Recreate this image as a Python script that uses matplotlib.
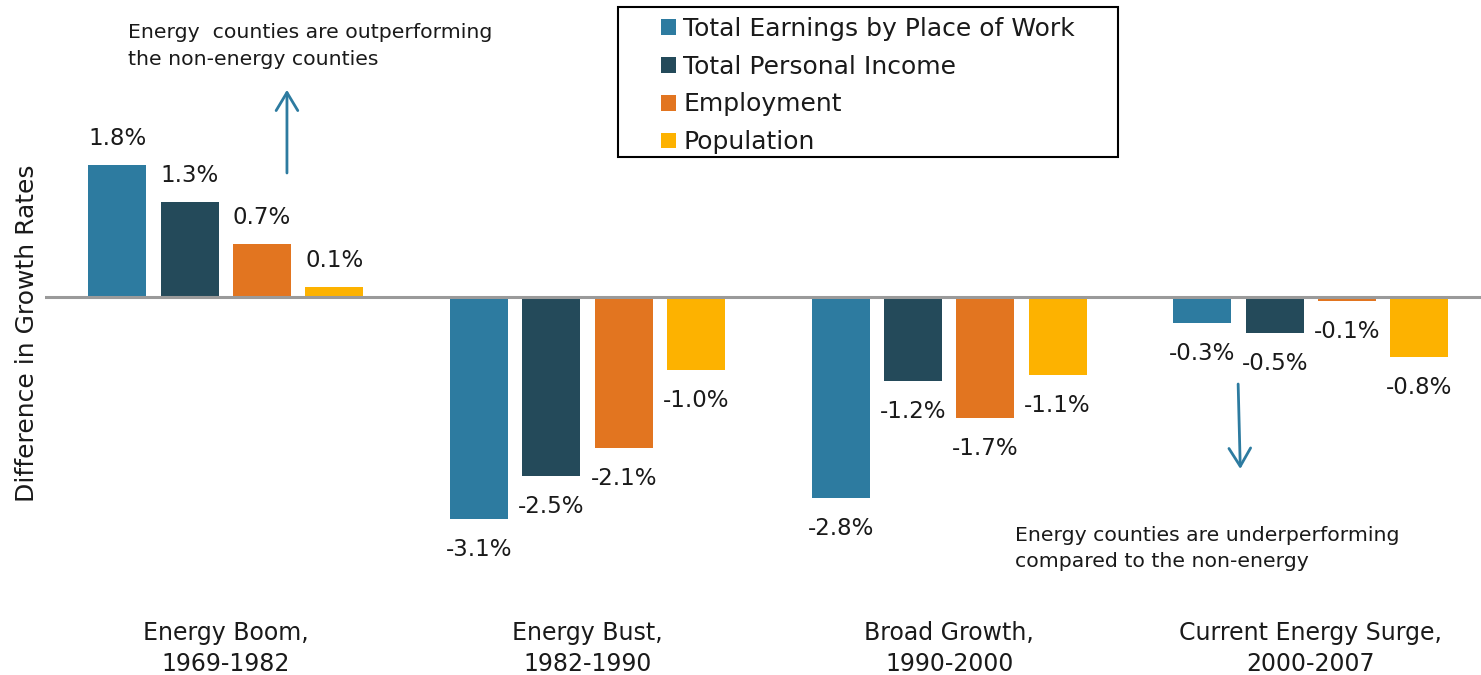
import matplotlib
matplotlib.use("Agg")
import matplotlib.pyplot as plt
import numpy as np
from matplotlib.patches import Patch, Rectangle

plt.rcParams['font.family'] = ['DejaVu Sans']

categories = ["Energy Boom,\n1969-1982", "Energy Bust,\n1982-1990",
              "Broad Growth,\n1990-2000", "Current Energy Surge,\n2000-2007"]
series_names = ["Total Earnings by Place of Work", "Total Personal Income",
                "Employment", "Population"]
earnings = [1.79, -3.00, -2.71, -0.35]
income = [1.28, -2.42, -1.14, -0.48]
employment = [0.72, -2.04, -1.64, -0.06]
population = [0.14, -0.98, -1.05, -0.81]
earnings_labels = ["1.8%", "-3.1%", "-2.8%", "-0.3%"]
income_labels = ["1.3%", "-2.5%", "-1.2%", "-0.5%"]
employment_labels = ["0.7%", "-2.1%", "-1.7%", "-0.1%"]
population_labels = ["0.1%", "-1.0%", "-1.1%", "-0.8%"]

series = [earnings, income, employment, population]
labels = [earnings_labels, income_labels, employment_labels, population_labels]
colors = ["#2D7BA0", "#244A5A", "#E27520", "#FDB200"]

W, H = 1481, 675
fig = plt.figure(figsize=(W / 100, H / 100), dpi=100)
ax = fig.add_axes([45 / W, 75 / H, (W - 45) / W, 600 / H])
ax.set_xlim(-0.5, 3.4705)
ax.set_ylim(-4.095, 4.014)

x = np.arange(len(categories))
step = 0.2
width = 0.16
text_col = "#1a1a1a"
for j, (vals, labs, col) in enumerate(zip(series, labels, colors)):
    xs = x + (j - 1.5) * step
    ax.bar(xs, vals, width, color=col, label=series_names[j], zorder=2)
    for xi, v, lab in zip(xs, vals, labs):
        off = 19 if v >= 0 else -22
        ax.annotate(lab, (xi, v), xytext=(0, off), textcoords="offset points",
                    ha="center", va="center", fontsize=16.5, color=text_col)

ax.axhline(0, color="#9a9a9a", lw=2.2, zorder=3)
for s in ax.spines.values():
    s.set_visible(False)
ax.set_yticks([])
ax.set_xticks(x)
ax.set_xticklabels(categories, fontsize=17, color=text_col, linespacing=1.38)
ax.tick_params(axis="x", length=0, pad=15)

fig.text(27 / W, 1 - 333 / H, "Difference in Growth Rates", rotation=90,
         ha="center", va="center", fontsize=18, color=text_col)

arrow_col = "#2D7BA0"
aprops = dict(arrowstyle="->,head_length=0.5,head_width=0.3", color=arrow_col,
              lw=2, mutation_scale=26, shrinkA=0, shrinkB=0)
ax.annotate("", xy=(0.169, 2.80), xytext=(0.169, 1.676), arrowprops=aprops)
ax.annotate("", xy=(2.805, -2.324), xytext=(2.799, -1.176), arrowprops=aprops)

fig.text(128 / W, 1 - 46 / H, "Energy  counties are outperforming\nthe non-energy counties",
         ha="left", va="center", fontsize=14.7, color=text_col, linespacing=1.5)
fig.text(1015 / W, 1 - 548.5 / H, "Energy counties are underperforming\ncompared to the non-energy",
         ha="left", va="center", fontsize=14.7, color=text_col, linespacing=1.45)

# legend frame
fig.patches.append(Rectangle((618 / W, 1 - 157 / H), 500 / W, 150 / H,
                             transform=fig.transFigure, fill=False,
                             edgecolor="black", lw=1.5))
handles = [Patch(facecolor=c, edgecolor="none") for c in colors]
leg = ax.legend(handles, series_names, loc="upper left",
                bbox_to_anchor=(661 / W, 1 - 17 / H), bbox_transform=fig.transFigure,
                borderaxespad=0, borderpad=0, frameon=False, fontsize=18,
                handlelength=0.6, handleheight=0.6, handletextpad=0.28,
                labelspacing=0.55)
for t in leg.get_texts():
    t.set_color(text_col)

fig.savefig("out.png", dpi=100)
